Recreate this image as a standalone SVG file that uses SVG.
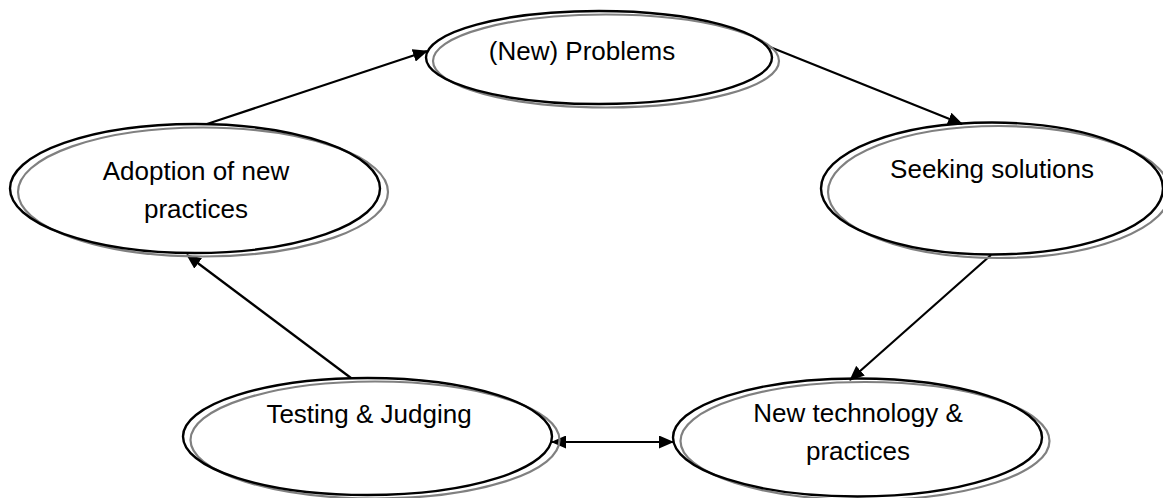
<svg xmlns="http://www.w3.org/2000/svg" width="1163" height="498" viewBox="0 0 1163 498">
<style>
.bg{fill:#ffffff}
.sh{fill:none;stroke:#808080;stroke-width:2.2}
.el{fill:none;stroke:#000000;stroke-width:2.4}
.lbl{font-family:"Liberation Sans",Arial,sans-serif;font-size:26px;fill:#000000;text-anchor:middle}
.cn{fill:none;stroke:#000000;stroke-width:2.2}
</style>
<defs>
<marker id="ah" viewBox="0 0 15 13" refX="14" refY="6.5" markerWidth="15" markerHeight="13" markerUnits="userSpaceOnUse" orient="auto-start-reverse">
<path d="M0,0 L15,6.5 L0,13 z" fill="#000000"/>
</marker>
</defs>
<rect class="bg" x="0" y="0" width="1163" height="498"/>
<g id="connectors">
<line class="cn" x1="207" y1="124" x2="427" y2="51" marker-end="url(#ah)"/>
<line class="cn" x1="770" y1="47" x2="962" y2="124" marker-end="url(#ah)"/>
<line class="cn" x1="991" y1="255" x2="850" y2="380" marker-end="url(#ah)"/>
<line class="cn" x1="351" y1="378" x2="187" y2="255" marker-end="url(#ah)"/>
<line class="cn" x1="552" y1="442" x2="673" y2="442" marker-start="url(#ah)" marker-end="url(#ah)"/>
</g>
<g id="node-problems">
<ellipse class="sh" cx="606" cy="61" rx="173" ry="46.5"/>
<ellipse class="el" cx="599" cy="57.5" rx="173" ry="46.5"/>
<text class="lbl" x="582" y="60">(New) Problems</text>
</g>
<g id="node-seeking">
<ellipse class="sh" cx="999" cy="192" rx="171" ry="66"/>
<ellipse class="el" cx="992" cy="188.5" rx="171" ry="66"/>
<text class="lbl" x="992" y="178">Seeking solutions</text>
</g>
<g id="node-newtech">
<ellipse class="sh" cx="865" cy="441" rx="184.5" ry="59"/>
<ellipse class="el" cx="857.5" cy="437.5" rx="184.5" ry="59"/>
<text class="lbl" x="858" y="422">New technology &amp;</text>
<text class="lbl" x="858" y="460">practices</text>
</g>
<g id="node-testing">
<ellipse class="sh" cx="375" cy="440" rx="184.5" ry="58.5"/>
<ellipse class="el" cx="367.5" cy="436.5" rx="184.5" ry="58.5"/>
<text class="lbl" x="369" y="423">Testing &amp; Judging</text>
</g>
<g id="node-adoption">
<ellipse class="sh" cx="203" cy="192" rx="185" ry="64.5"/>
<ellipse class="el" cx="195" cy="188.5" rx="185" ry="64.5"/>
<text class="lbl" x="196" y="180">Adoption of new</text>
<text class="lbl" x="196" y="218">practices</text>
</g>
</svg>
